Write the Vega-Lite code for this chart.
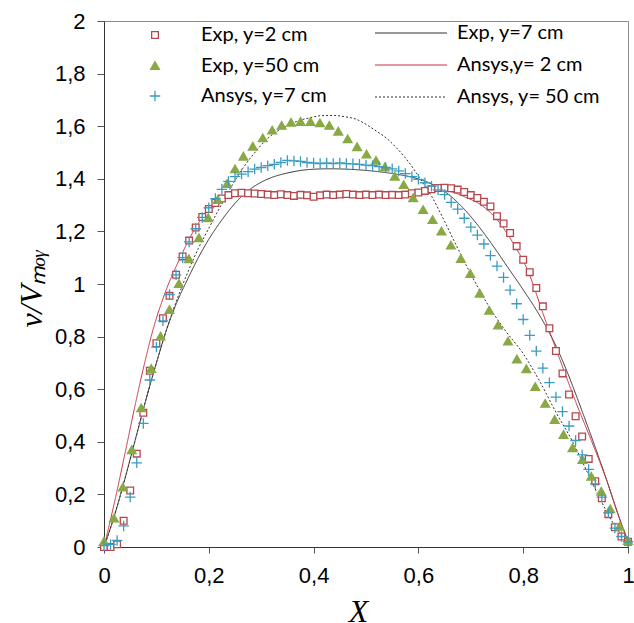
{
  "$schema": "https://vega.github.io/schema/vega-lite/v6.json",
  "width": 524,
  "height": 526,
  "autosize": {"type": "none"},
  "padding": {"left": 104, "top": 21, "right": 6, "bottom": 76},
  "background": "white",
  "config": {
    "view": {"stroke": "#8c8c8c", "strokeWidth": 1},
    "axis": {
      "grid": false,
      "domainColor": "#333333",
      "tickColor": "#555555",
      "labelFont": "Liberation Sans",
      "labelFontSize": 22,
      "labelColor": "#000000",
      "titleFont": "Liberation Serif",
      "titleFontStyle": "italic",
      "titleFontWeight": "normal",
      "titleFontSize": 32,
      "titleColor": "#000000"
    }
  },
  "datasets": {
    "d": [
      {"s":"Exp, y=2 cm","x":0,"y":0},{"s":"Exp, y=2 cm","x":0.0125,"y":0},{"s":"Exp, y=2 cm","x":0.025,"y":0.01},{"s":"Exp, y=2 cm","x":0.0375,"y":0.1},{"s":"Exp, y=2 cm","x":0.05,"y":0.215},{"s":"Exp, y=2 cm","x":0.0625,"y":0.355},{"s":"Exp, y=2 cm","x":0.075,"y":0.51},{"s":"Exp, y=2 cm","x":0.0875,"y":0.67},{"s":"Exp, y=2 cm","x":0.1,"y":0.775},{"s":"Exp, y=2 cm","x":0.1125,"y":0.87},{"s":"Exp, y=2 cm","x":0.125,"y":0.955},{"s":"Exp, y=2 cm","x":0.1375,"y":1.035},{"s":"Exp, y=2 cm","x":0.15,"y":1.105},{"s":"Exp, y=2 cm","x":0.1625,"y":1.165},{"s":"Exp, y=2 cm","x":0.175,"y":1.215},{"s":"Exp, y=2 cm","x":0.1875,"y":1.255},{"s":"Exp, y=2 cm","x":0.2,"y":1.285},{"s":"Exp, y=2 cm","x":0.2125,"y":1.308},{"s":"Exp, y=2 cm","x":0.225,"y":1.325},{"s":"Exp, y=2 cm","x":0.2375,"y":1.338},{"s":"Exp, y=2 cm","x":0.25,"y":1.345},{"s":"Exp, y=2 cm","x":0.2625,"y":1.347},{"s":"Exp, y=2 cm","x":0.275,"y":1.345},{"s":"Exp, y=2 cm","x":0.2875,"y":1.344},{"s":"Exp, y=2 cm","x":0.3,"y":1.342},{"s":"Exp, y=2 cm","x":0.3125,"y":1.34},{"s":"Exp, y=2 cm","x":0.325,"y":1.338},{"s":"Exp, y=2 cm","x":0.3375,"y":1.341},{"s":"Exp, y=2 cm","x":0.35,"y":1.338},{"s":"Exp, y=2 cm","x":0.3625,"y":1.335},{"s":"Exp, y=2 cm","x":0.375,"y":1.339},{"s":"Exp, y=2 cm","x":0.3875,"y":1.337},{"s":"Exp, y=2 cm","x":0.4,"y":1.332},{"s":"Exp, y=2 cm","x":0.4125,"y":1.337},{"s":"Exp, y=2 cm","x":0.425,"y":1.34},{"s":"Exp, y=2 cm","x":0.4375,"y":1.338},{"s":"Exp, y=2 cm","x":0.45,"y":1.34},{"s":"Exp, y=2 cm","x":0.4625,"y":1.342},{"s":"Exp, y=2 cm","x":0.475,"y":1.34},{"s":"Exp, y=2 cm","x":0.4875,"y":1.338},{"s":"Exp, y=2 cm","x":0.5,"y":1.34},{"s":"Exp, y=2 cm","x":0.5125,"y":1.338},{"s":"Exp, y=2 cm","x":0.525,"y":1.34},{"s":"Exp, y=2 cm","x":0.5375,"y":1.338},{"s":"Exp, y=2 cm","x":0.55,"y":1.339},{"s":"Exp, y=2 cm","x":0.5625,"y":1.338},{"s":"Exp, y=2 cm","x":0.575,"y":1.34},{"s":"Exp, y=2 cm","x":0.5875,"y":1.345},{"s":"Exp, y=2 cm","x":0.6,"y":1.348},{"s":"Exp, y=2 cm","x":0.6125,"y":1.354},{"s":"Exp, y=2 cm","x":0.625,"y":1.36},{"s":"Exp, y=2 cm","x":0.6375,"y":1.365},{"s":"Exp, y=2 cm","x":0.65,"y":1.366},{"s":"Exp, y=2 cm","x":0.6625,"y":1.364},{"s":"Exp, y=2 cm","x":0.675,"y":1.359},{"s":"Exp, y=2 cm","x":0.6875,"y":1.35},{"s":"Exp, y=2 cm","x":0.7,"y":1.338},{"s":"Exp, y=2 cm","x":0.7125,"y":1.327},{"s":"Exp, y=2 cm","x":0.725,"y":1.313},{"s":"Exp, y=2 cm","x":0.7375,"y":1.295},{"s":"Exp, y=2 cm","x":0.75,"y":1.258},{"s":"Exp, y=2 cm","x":0.7625,"y":1.23},{"s":"Exp, y=2 cm","x":0.775,"y":1.194},{"s":"Exp, y=2 cm","x":0.7875,"y":1.144},{"s":"Exp, y=2 cm","x":0.8,"y":1.092},{"s":"Exp, y=2 cm","x":0.8125,"y":1.045},{"s":"Exp, y=2 cm","x":0.825,"y":0.985},{"s":"Exp, y=2 cm","x":0.8375,"y":0.915},{"s":"Exp, y=2 cm","x":0.85,"y":0.832},{"s":"Exp, y=2 cm","x":0.8625,"y":0.745},{"s":"Exp, y=2 cm","x":0.875,"y":0.66},{"s":"Exp, y=2 cm","x":0.8875,"y":0.58},{"s":"Exp, y=2 cm","x":0.9,"y":0.497},{"s":"Exp, y=2 cm","x":0.9125,"y":0.42},{"s":"Exp, y=2 cm","x":0.925,"y":0.335},{"s":"Exp, y=2 cm","x":0.9375,"y":0.25},{"s":"Exp, y=2 cm","x":0.95,"y":0.185},{"s":"Exp, y=2 cm","x":0.9625,"y":0.125},{"s":"Exp, y=2 cm","x":0.975,"y":0.075},{"s":"Exp, y=2 cm","x":0.9875,"y":0.04},{"s":"Exp, y=2 cm","x":1,"y":0.02},

      {"s":"Exp, y=50 cm","x":0,"y":0.022},{"s":"Exp, y=50 cm","x":0.019,"y":0.11},{"s":"Exp, y=50 cm","x":0.036,"y":0.228},{"s":"Exp, y=50 cm","x":0.053,"y":0.37},{"s":"Exp, y=50 cm","x":0.071,"y":0.529},{"s":"Exp, y=50 cm","x":0.09,"y":0.679},{"s":"Exp, y=50 cm","x":0.108,"y":0.802},{"s":"Exp, y=50 cm","x":0.125,"y":0.903},{"s":"Exp, y=50 cm","x":0.143,"y":1.002},{"s":"Exp, y=50 cm","x":0.162,"y":1.096},{"s":"Exp, y=50 cm","x":0.181,"y":1.176},{"s":"Exp, y=50 cm","x":0.199,"y":1.252},{"s":"Exp, y=50 cm","x":0.217,"y":1.321},{"s":"Exp, y=50 cm","x":0.235,"y":1.382},{"s":"Exp, y=50 cm","x":0.25,"y":1.438},{"s":"Exp, y=50 cm","x":0.266,"y":1.486},{"s":"Exp, y=50 cm","x":0.284,"y":1.524},{"s":"Exp, y=50 cm","x":0.303,"y":1.556},{"s":"Exp, y=50 cm","x":0.321,"y":1.585},{"s":"Exp, y=50 cm","x":0.339,"y":1.603},{"s":"Exp, y=50 cm","x":0.357,"y":1.615},{"s":"Exp, y=50 cm","x":0.375,"y":1.618},{"s":"Exp, y=50 cm","x":0.394,"y":1.618},{"s":"Exp, y=50 cm","x":0.412,"y":1.613},{"s":"Exp, y=50 cm","x":0.43,"y":1.603},{"s":"Exp, y=50 cm","x":0.447,"y":1.581},{"s":"Exp, y=50 cm","x":0.465,"y":1.552},{"s":"Exp, y=50 cm","x":0.483,"y":1.522},{"s":"Exp, y=50 cm","x":0.501,"y":1.494},{"s":"Exp, y=50 cm","x":0.519,"y":1.47},{"s":"Exp, y=50 cm","x":0.536,"y":1.445},{"s":"Exp, y=50 cm","x":0.555,"y":1.41},{"s":"Exp, y=50 cm","x":0.572,"y":1.378},{"s":"Exp, y=50 cm","x":0.59,"y":1.328},{"s":"Exp, y=50 cm","x":0.609,"y":1.283},{"s":"Exp, y=50 cm","x":0.627,"y":1.245},{"s":"Exp, y=50 cm","x":0.644,"y":1.201},{"s":"Exp, y=50 cm","x":0.662,"y":1.148},{"s":"Exp, y=50 cm","x":0.681,"y":1.097},{"s":"Exp, y=50 cm","x":0.699,"y":1.04},{"s":"Exp, y=50 cm","x":0.717,"y":0.965},{"s":"Exp, y=50 cm","x":0.735,"y":0.9},{"s":"Exp, y=50 cm","x":0.752,"y":0.844},{"s":"Exp, y=50 cm","x":0.771,"y":0.783},{"s":"Exp, y=50 cm","x":0.788,"y":0.715},{"s":"Exp, y=50 cm","x":0.806,"y":0.678},{"s":"Exp, y=50 cm","x":0.823,"y":0.61},{"s":"Exp, y=50 cm","x":0.842,"y":0.546},{"s":"Exp, y=50 cm","x":0.86,"y":0.485},{"s":"Exp, y=50 cm","x":0.877,"y":0.428},{"s":"Exp, y=50 cm","x":0.894,"y":0.377},{"s":"Exp, y=50 cm","x":0.913,"y":0.333},{"s":"Exp, y=50 cm","x":0.93,"y":0.269},{"s":"Exp, y=50 cm","x":0.949,"y":0.212},{"s":"Exp, y=50 cm","x":0.966,"y":0.145},{"s":"Exp, y=50 cm","x":0.984,"y":0.079},{"s":"Exp, y=50 cm","x":1,"y":0.025},

      {"s":"Ansys, y=7 cm","x":0,"y":0.005},{"s":"Ansys, y=7 cm","x":0.0125,"y":0.01},{"s":"Ansys, y=7 cm","x":0.025,"y":0.025},{"s":"Ansys, y=7 cm","x":0.0375,"y":0.08},{"s":"Ansys, y=7 cm","x":0.05,"y":0.19},{"s":"Ansys, y=7 cm","x":0.0625,"y":0.32},{"s":"Ansys, y=7 cm","x":0.075,"y":0.47},{"s":"Ansys, y=7 cm","x":0.0875,"y":0.635},{"s":"Ansys, y=7 cm","x":0.1,"y":0.76},{"s":"Ansys, y=7 cm","x":0.1125,"y":0.86},{"s":"Ansys, y=7 cm","x":0.125,"y":0.96},{"s":"Ansys, y=7 cm","x":0.1375,"y":1.035},{"s":"Ansys, y=7 cm","x":0.15,"y":1.1},{"s":"Ansys, y=7 cm","x":0.1625,"y":1.16},{"s":"Ansys, y=7 cm","x":0.175,"y":1.21},{"s":"Ansys, y=7 cm","x":0.1875,"y":1.253},{"s":"Ansys, y=7 cm","x":0.2,"y":1.29},{"s":"Ansys, y=7 cm","x":0.2125,"y":1.325},{"s":"Ansys, y=7 cm","x":0.225,"y":1.36},{"s":"Ansys, y=7 cm","x":0.2375,"y":1.39},{"s":"Ansys, y=7 cm","x":0.25,"y":1.408},{"s":"Ansys, y=7 cm","x":0.2625,"y":1.418},{"s":"Ansys, y=7 cm","x":0.275,"y":1.427},{"s":"Ansys, y=7 cm","x":0.2875,"y":1.437},{"s":"Ansys, y=7 cm","x":0.3,"y":1.443},{"s":"Ansys, y=7 cm","x":0.3125,"y":1.45},{"s":"Ansys, y=7 cm","x":0.325,"y":1.455},{"s":"Ansys, y=7 cm","x":0.3375,"y":1.462},{"s":"Ansys, y=7 cm","x":0.35,"y":1.47},{"s":"Ansys, y=7 cm","x":0.3625,"y":1.468},{"s":"Ansys, y=7 cm","x":0.375,"y":1.466},{"s":"Ansys, y=7 cm","x":0.3875,"y":1.462},{"s":"Ansys, y=7 cm","x":0.4,"y":1.46},{"s":"Ansys, y=7 cm","x":0.4125,"y":1.458},{"s":"Ansys, y=7 cm","x":0.425,"y":1.46},{"s":"Ansys, y=7 cm","x":0.4375,"y":1.458},{"s":"Ansys, y=7 cm","x":0.45,"y":1.46},{"s":"Ansys, y=7 cm","x":0.4625,"y":1.458},{"s":"Ansys, y=7 cm","x":0.475,"y":1.457},{"s":"Ansys, y=7 cm","x":0.4875,"y":1.455},{"s":"Ansys, y=7 cm","x":0.5,"y":1.452},{"s":"Ansys, y=7 cm","x":0.5125,"y":1.45},{"s":"Ansys, y=7 cm","x":0.525,"y":1.446},{"s":"Ansys, y=7 cm","x":0.5375,"y":1.443},{"s":"Ansys, y=7 cm","x":0.55,"y":1.438},{"s":"Ansys, y=7 cm","x":0.5625,"y":1.43},{"s":"Ansys, y=7 cm","x":0.575,"y":1.42},{"s":"Ansys, y=7 cm","x":0.5875,"y":1.408},{"s":"Ansys, y=7 cm","x":0.6,"y":1.398},{"s":"Ansys, y=7 cm","x":0.6125,"y":1.385},{"s":"Ansys, y=7 cm","x":0.625,"y":1.372},{"s":"Ansys, y=7 cm","x":0.6375,"y":1.358},{"s":"Ansys, y=7 cm","x":0.65,"y":1.34},{"s":"Ansys, y=7 cm","x":0.6625,"y":1.31},{"s":"Ansys, y=7 cm","x":0.675,"y":1.285},{"s":"Ansys, y=7 cm","x":0.6875,"y":1.25},{"s":"Ansys, y=7 cm","x":0.7,"y":1.216},{"s":"Ansys, y=7 cm","x":0.7125,"y":1.186},{"s":"Ansys, y=7 cm","x":0.725,"y":1.152},{"s":"Ansys, y=7 cm","x":0.7375,"y":1.108},{"s":"Ansys, y=7 cm","x":0.75,"y":1.068},{"s":"Ansys, y=7 cm","x":0.7625,"y":1.025},{"s":"Ansys, y=7 cm","x":0.775,"y":0.977},{"s":"Ansys, y=7 cm","x":0.7875,"y":0.925},{"s":"Ansys, y=7 cm","x":0.8,"y":0.865},{"s":"Ansys, y=7 cm","x":0.8125,"y":0.805},{"s":"Ansys, y=7 cm","x":0.825,"y":0.745},{"s":"Ansys, y=7 cm","x":0.8375,"y":0.68},{"s":"Ansys, y=7 cm","x":0.85,"y":0.625},{"s":"Ansys, y=7 cm","x":0.8625,"y":0.57},{"s":"Ansys, y=7 cm","x":0.875,"y":0.515},{"s":"Ansys, y=7 cm","x":0.8875,"y":0.46},{"s":"Ansys, y=7 cm","x":0.9,"y":0.405},{"s":"Ansys, y=7 cm","x":0.9125,"y":0.35},{"s":"Ansys, y=7 cm","x":0.925,"y":0.295},{"s":"Ansys, y=7 cm","x":0.9375,"y":0.24},{"s":"Ansys, y=7 cm","x":0.95,"y":0.19},{"s":"Ansys, y=7 cm","x":0.9625,"y":0.13},{"s":"Ansys, y=7 cm","x":0.975,"y":0.072},{"s":"Ansys, y=7 cm","x":0.9875,"y":0.04},{"s":"Ansys, y=7 cm","x":1,"y":0.02},

      {"s":"Exp, y=7 cm","x":0,"y":0},{"s":"Exp, y=7 cm","x":0.02,"y":0.12},{"s":"Exp, y=7 cm","x":0.04,"y":0.26},{"s":"Exp, y=7 cm","x":0.06,"y":0.41},{"s":"Exp, y=7 cm","x":0.08,"y":0.56},{"s":"Exp, y=7 cm","x":0.1,"y":0.7},{"s":"Exp, y=7 cm","x":0.12,"y":0.83},{"s":"Exp, y=7 cm","x":0.14,"y":0.935},{"s":"Exp, y=7 cm","x":0.16,"y":1.02},{"s":"Exp, y=7 cm","x":0.18,"y":1.1},{"s":"Exp, y=7 cm","x":0.2,"y":1.17},{"s":"Exp, y=7 cm","x":0.22,"y":1.23},{"s":"Exp, y=7 cm","x":0.24,"y":1.283},{"s":"Exp, y=7 cm","x":0.26,"y":1.328},{"s":"Exp, y=7 cm","x":0.28,"y":1.362},{"s":"Exp, y=7 cm","x":0.3,"y":1.387},{"s":"Exp, y=7 cm","x":0.32,"y":1.405},{"s":"Exp, y=7 cm","x":0.35,"y":1.422},{"s":"Exp, y=7 cm","x":0.39,"y":1.435},{"s":"Exp, y=7 cm","x":0.43,"y":1.438},{"s":"Exp, y=7 cm","x":0.47,"y":1.436},{"s":"Exp, y=7 cm","x":0.51,"y":1.43},{"s":"Exp, y=7 cm","x":0.55,"y":1.42},{"s":"Exp, y=7 cm","x":0.59,"y":1.405},{"s":"Exp, y=7 cm","x":0.62,"y":1.385},{"s":"Exp, y=7 cm","x":0.65,"y":1.352},{"s":"Exp, y=7 cm","x":0.68,"y":1.3},{"s":"Exp, y=7 cm","x":0.71,"y":1.232},{"s":"Exp, y=7 cm","x":0.74,"y":1.152},{"s":"Exp, y=7 cm","x":0.77,"y":1.065},{"s":"Exp, y=7 cm","x":0.8,"y":0.978},{"s":"Exp, y=7 cm","x":0.83,"y":0.885},{"s":"Exp, y=7 cm","x":0.86,"y":0.775},{"s":"Exp, y=7 cm","x":0.88,"y":0.685},{"s":"Exp, y=7 cm","x":0.9,"y":0.583},{"s":"Exp, y=7 cm","x":0.92,"y":0.475},{"s":"Exp, y=7 cm","x":0.94,"y":0.365},{"s":"Exp, y=7 cm","x":0.96,"y":0.25},{"s":"Exp, y=7 cm","x":0.98,"y":0.13},{"s":"Exp, y=7 cm","x":1,"y":0.02},

      {"s":"Ansys,y= 2 cm","x":0,"y":0},{"s":"Ansys,y= 2 cm","x":0.02,"y":0.17},{"s":"Ansys,y= 2 cm","x":0.04,"y":0.355},{"s":"Ansys,y= 2 cm","x":0.06,"y":0.545},{"s":"Ansys,y= 2 cm","x":0.07,"y":0.635},{"s":"Ansys,y= 2 cm","x":0.08,"y":0.72},{"s":"Ansys,y= 2 cm","x":0.09,"y":0.8},{"s":"Ansys,y= 2 cm","x":0.1,"y":0.87},{"s":"Ansys,y= 2 cm","x":0.11,"y":0.93},{"s":"Ansys,y= 2 cm","x":0.12,"y":0.985},{"s":"Ansys,y= 2 cm","x":0.135,"y":1.055},{"s":"Ansys,y= 2 cm","x":0.15,"y":1.12},{"s":"Ansys,y= 2 cm","x":0.165,"y":1.18},{"s":"Ansys,y= 2 cm","x":0.18,"y":1.23},{"s":"Ansys,y= 2 cm","x":0.2,"y":1.285},{"s":"Ansys,y= 2 cm","x":0.22,"y":1.322},{"s":"Ansys,y= 2 cm","x":0.24,"y":1.343},{"s":"Ansys,y= 2 cm","x":0.27,"y":1.35},{"s":"Ansys,y= 2 cm","x":0.3,"y":1.345},{"s":"Ansys,y= 2 cm","x":0.35,"y":1.342},{"s":"Ansys,y= 2 cm","x":0.4,"y":1.34},{"s":"Ansys,y= 2 cm","x":0.45,"y":1.34},{"s":"Ansys,y= 2 cm","x":0.5,"y":1.34},{"s":"Ansys,y= 2 cm","x":0.55,"y":1.342},{"s":"Ansys,y= 2 cm","x":0.6,"y":1.35},{"s":"Ansys,y= 2 cm","x":0.63,"y":1.358},{"s":"Ansys,y= 2 cm","x":0.66,"y":1.352},{"s":"Ansys,y= 2 cm","x":0.69,"y":1.33},{"s":"Ansys,y= 2 cm","x":0.72,"y":1.3},{"s":"Ansys,y= 2 cm","x":0.75,"y":1.245},{"s":"Ansys,y= 2 cm","x":0.78,"y":1.158},{"s":"Ansys,y= 2 cm","x":0.81,"y":1.045},{"s":"Ansys,y= 2 cm","x":0.84,"y":0.875},{"s":"Ansys,y= 2 cm","x":0.87,"y":0.713},{"s":"Ansys,y= 2 cm","x":0.9,"y":0.553},{"s":"Ansys,y= 2 cm","x":0.93,"y":0.405},{"s":"Ansys,y= 2 cm","x":0.96,"y":0.25},{"s":"Ansys,y= 2 cm","x":0.98,"y":0.13},{"s":"Ansys,y= 2 cm","x":1,"y":0.02},

      {"s":"Ansys, y= 50 cm","x":0,"y":0},{"s":"Ansys, y= 50 cm","x":0.02,"y":0.12},{"s":"Ansys, y= 50 cm","x":0.04,"y":0.26},{"s":"Ansys, y= 50 cm","x":0.06,"y":0.41},{"s":"Ansys, y= 50 cm","x":0.08,"y":0.56},{"s":"Ansys, y= 50 cm","x":0.1,"y":0.7},{"s":"Ansys, y= 50 cm","x":0.12,"y":0.83},{"s":"Ansys, y= 50 cm","x":0.14,"y":0.945},{"s":"Ansys, y= 50 cm","x":0.16,"y":1.045},{"s":"Ansys, y= 50 cm","x":0.18,"y":1.135},{"s":"Ansys, y= 50 cm","x":0.2,"y":1.212},{"s":"Ansys, y= 50 cm","x":0.22,"y":1.287},{"s":"Ansys, y= 50 cm","x":0.24,"y":1.36},{"s":"Ansys, y= 50 cm","x":0.265,"y":1.44},{"s":"Ansys, y= 50 cm","x":0.29,"y":1.505},{"s":"Ansys, y= 50 cm","x":0.31,"y":1.549},{"s":"Ansys, y= 50 cm","x":0.33,"y":1.58},{"s":"Ansys, y= 50 cm","x":0.35,"y":1.603},{"s":"Ansys, y= 50 cm","x":0.37,"y":1.62},{"s":"Ansys, y= 50 cm","x":0.393,"y":1.632},{"s":"Ansys, y= 50 cm","x":0.415,"y":1.64},{"s":"Ansys, y= 50 cm","x":0.437,"y":1.641},{"s":"Ansys, y= 50 cm","x":0.46,"y":1.636},{"s":"Ansys, y= 50 cm","x":0.482,"y":1.626},{"s":"Ansys, y= 50 cm","x":0.5,"y":1.607},{"s":"Ansys, y= 50 cm","x":0.52,"y":1.581},{"s":"Ansys, y= 50 cm","x":0.54,"y":1.553},{"s":"Ansys, y= 50 cm","x":0.558,"y":1.518},{"s":"Ansys, y= 50 cm","x":0.575,"y":1.48},{"s":"Ansys, y= 50 cm","x":0.59,"y":1.44},{"s":"Ansys, y= 50 cm","x":0.61,"y":1.38},{"s":"Ansys, y= 50 cm","x":0.625,"y":1.334},{"s":"Ansys, y= 50 cm","x":0.647,"y":1.25},{"s":"Ansys, y= 50 cm","x":0.672,"y":1.148},{"s":"Ansys, y= 50 cm","x":0.698,"y":1.045},{"s":"Ansys, y= 50 cm","x":0.73,"y":0.93},{"s":"Ansys, y= 50 cm","x":0.765,"y":0.825},{"s":"Ansys, y= 50 cm","x":0.8,"y":0.735},{"s":"Ansys, y= 50 cm","x":0.831,"y":0.632},{"s":"Ansys, y= 50 cm","x":0.863,"y":0.51},{"s":"Ansys, y= 50 cm","x":0.895,"y":0.398},{"s":"Ansys, y= 50 cm","x":0.921,"y":0.29},{"s":"Ansys, y= 50 cm","x":0.95,"y":0.17},{"s":"Ansys, y= 50 cm","x":0.975,"y":0.08},{"s":"Ansys, y= 50 cm","x":1,"y":0.02}
    ]
  },
  "data": {"name": "d"},
  "encoding": {
    "x": {
      "field": "x", "type": "quantitative",
      "scale": {"domain": [0, 1], "nice": false, "zero": false},
      "axis": {
        "title": "X", "values": [0, 0.2, 0.4, 0.6, 0.8, 1],
        "labelExpr": "replace(format(datum.value, '~g'), '.', ',')",
        "tickSize": 6, "labelPadding": 12, "labelFlush": false,
        "titleX": 254, "titleY": 74, "titleBaseline": "alphabetic"
      }
    },
    "y": {
      "field": "y", "type": "quantitative",
      "scale": {"domain": [0, 2], "nice": false},
      "axis": {
        "title": "v/Vₘₒᵧ", "values": [0, 0.2, 0.4, 0.6, 0.8, 1, 1.2, 1.4, 1.6, 1.8, 2],
        "labelExpr": "replace(format(datum.value, '~g'), '.', ',')",
        "tickSize": 7, "labelPadding": 12, "labelFlush": false,
        "titleX": -73, "titleY": 267, "titleBaseline": "middle", "titleAlign": "center"
      }
    }
  },
  "layer": [
    {
      "transform": [{"filter": {"field": "s", "oneOf": ["Exp, y=7 cm", "Ansys,y= 2 cm", "Ansys, y= 50 cm"]}}],
      "mark": {"type": "line", "strokeWidth": 1, "interpolate": "monotone"},
      "encoding": {
        "stroke": {
          "field": "s", "type": "nominal",
          "scale": {"domain": ["Exp, y=7 cm", "Ansys,y= 2 cm", "Ansys, y= 50 cm"], "range": ["#333333", "#cc2f3f", "#333333"]},
          "legend": {
            "orient": "none", "legendX": 286.5, "legendY": -8.5, "title": null, "padding": 0,
            "rowPadding": 1, "labelOffset": 25.5, "symbolType": "M-1.8,0H1.8", "symbolSize": 1600,
            "symbolStrokeWidth": 1, "labelFont": "Lato", "labelFontSize": 20, "labelColor": "#000000"
          }
        },
        "strokeDash": {
          "field": "s", "type": "nominal",
          "scale": {"domain": ["Exp, y=7 cm", "Ansys,y= 2 cm", "Ansys, y= 50 cm"], "range": [[1, 0], [1, 0], [2, 2]]}
        }
      }
    },
    {
      "transform": [{"filter": {"field": "s", "oneOf": ["Exp, y=2 cm", "Exp, y=50 cm", "Ansys, y=7 cm"]}}],
      "mark": {"type": "point", "filled": false, "strokeWidth": 1.3, "opacity": 1},
      "encoding": {
        "color": {
          "field": "s", "type": "nominal",
          "scale": {"domain": ["Exp, y=2 cm", "Exp, y=50 cm", "Ansys, y=7 cm"], "range": ["#b5484f", "#88a944", "#3b9cc0"]},
          "legend": {
            "orient": "none", "legendX": 41, "legendY": 4, "title": null, "padding": 0,
            "rowPadding": 10.5, "labelOffset": 36, "labelFont": "Lato", "labelFontSize": 20, "labelColor": "#000000",
            "symbolStrokeWidth": 1.3
          }
        },
        "shape": {
          "field": "s", "type": "nominal",
          "scale": {"domain": ["Exp, y=2 cm", "Exp, y=50 cm", "Ansys, y=7 cm"], "range": ["square", "triangle-up", "M-1,0H1M0,-1V1"]}
        },
        "fill": {
          "field": "s", "type": "nominal",
          "scale": {"domain": ["Exp, y=2 cm", "Exp, y=50 cm", "Ansys, y=7 cm"], "range": ["#ffffff", "#88a944", "#ffffff"]}
        },
        "size": {
          "field": "s", "type": "nominal",
          "scale": {"domain": ["Exp, y=2 cm", "Exp, y=50 cm", "Ansys, y=7 cm"], "range": [45, 110, 81]}
        }
      }
    }
  ]
}
